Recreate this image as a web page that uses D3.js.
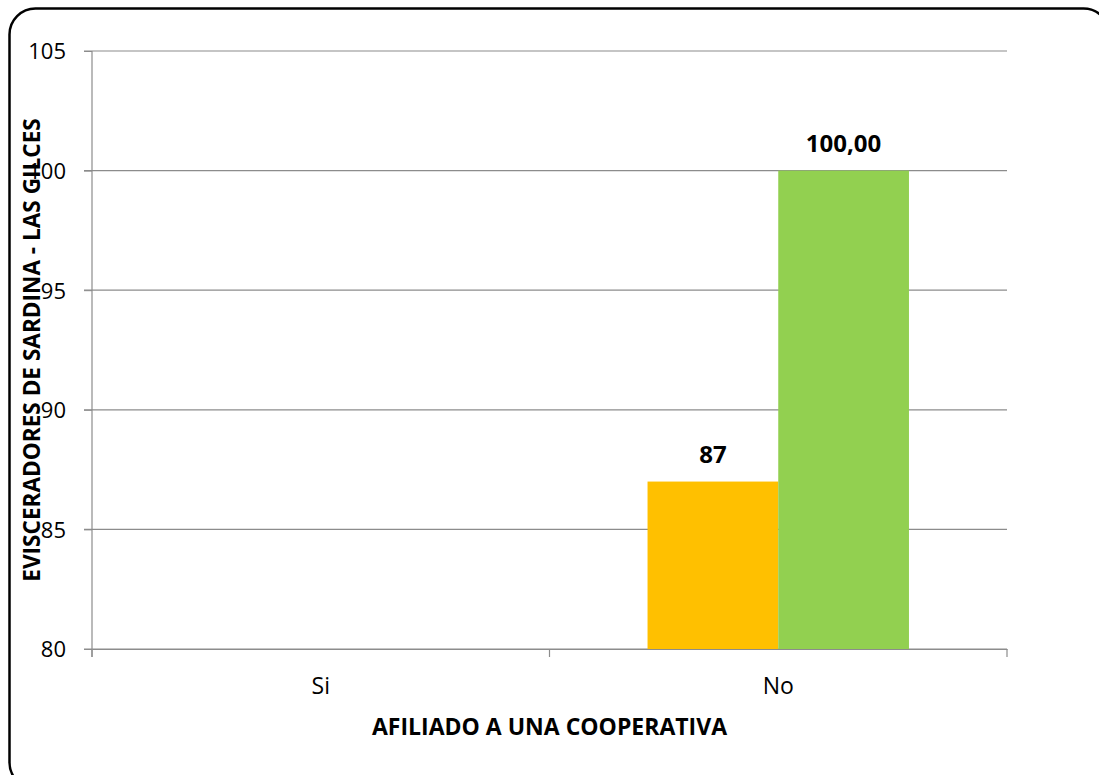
<!DOCTYPE html>
<html><head><meta charset="utf-8">
<script src="https://cdn.jsdelivr.net/npm/d3@7"></script>
<style>body{margin:0;background:#fff}svg{display:block}text{font-family:"Open Sans",sans-serif}</style>
</head><body><svg id="c" width="1099" height="775"></svg>
<script>
const categories = ["Si", "No"];
const seriesNames = ["Serie 1", "Serie 2"];
const seriesA = [null, 87];
const seriesB = [null, 100];
const labelsA = ["", "87"];
const labelsB = ["", "100,00"];
const colors = ["#FFC000", "#92D050"];
const yTicks = [80, 85, 90, 95, 100, 105];
const xTitle = "AFILIADO A UNA COOPERATIVA";
const yTitle = "EVISCERADORES DE SARDINA - LAS GILCES";

const FONT = "'Open Sans',sans-serif";
const svg = d3.select("#c");
svg.append("rect").attr("x",9.5).attr("y",8.5).attr("width",1100).attr("height",780)
  .attr("rx",26).attr("fill","#fff").attr("stroke","#000").attr("stroke-width",2.5);

const m = {l:92, r:1007, t:51, b:649};
const x = d3.scaleBand().domain(categories).range([m.l, m.r]);
const y = d3.scaleLinear().domain([80,105]).range([m.b, m.t]);
const xs = d3.scaleBand().domain([0,1]).range([0, x.bandwidth()]).paddingInner(0).paddingOuter(0.75);

// gridlines
svg.append("g").selectAll("line").data(yTicks).join("line")
  .attr("x1", m.l-8).attr("x2", m.r).attr("y1", d=>y(d)).attr("y2", d=>y(d))
  .attr("stroke","#8c8c8c").attr("stroke-width",1.2);

// y axis
const ya = svg.append("g").attr("transform",`translate(${m.l},0)`)
  .call(d3.axisLeft(y).tickValues(yTicks).tickSize(8).tickPadding(18));
ya.select(".domain").attr("stroke","#8c8c8c").attr("stroke-width",1.2).attr("d",`M0,${m.t}V${m.b+8}`);
ya.selectAll(".tick line").attr("stroke","#8c8c8c");
ya.selectAll("text").attr("font-size",22).attr("fill","#000").style("font-family",FONT).attr("dy","0.36em");

// bars
const series = [seriesA, seriesB];
const labels = [labelsA, labelsB];
const bars = svg.append("g");
series.forEach((vals, si) => {
  categories.forEach((c, ci) => {
    const v = vals[ci];
    if (v == null || v <= 80) return;
    bars.append("rect").attr("x", x(c)+xs(si)).attr("y", y(v))
      .attr("width", xs.bandwidth()).attr("height", y(80)-y(v)).attr("fill", colors[si]);
    svg.append("text").attr("x", x(c)+xs(si)+xs.bandwidth()/2).attr("y", y(v)-19)
      .attr("text-anchor","middle").attr("font-size",24).attr("font-weight","bold").text(labels[si][ci]);
  });
});

// x axis
const xa = svg.append("g").attr("transform",`translate(0,${m.b})`)
  .call(d3.axisBottom(x).tickSize(0).tickPadding(0));
xa.select(".domain").attr("stroke","#8c8c8c").attr("stroke-width",1.2);
xa.selectAll("text").attr("font-size",23).attr("fill","#000").style("font-family",FONT)
  .attr("dy",null).attr("y",45);
const bounds = [m.l, ...categories.slice(1).map(c=>x(c)), m.r];
svg.append("g").selectAll("line").data(bounds).join("line")
  .attr("x1",d=>d).attr("x2",d=>d).attr("y1",m.b).attr("y2",m.b+8)
  .attr("stroke","#8c8c8c").attr("stroke-width",1.2);

svg.append("text").attr("x",(m.l+m.r)/2).attr("y",735).attr("text-anchor","middle")
  .attr("font-size",23).attr("font-weight","bold").text(xTitle);
svg.append("text").attr("transform",`translate(40,${(m.t+m.b)/2}) rotate(-90)`).attr("text-anchor","middle")
  .attr("font-size",22.6).attr("font-weight","bold").text(yTitle);
</script></body></html>
